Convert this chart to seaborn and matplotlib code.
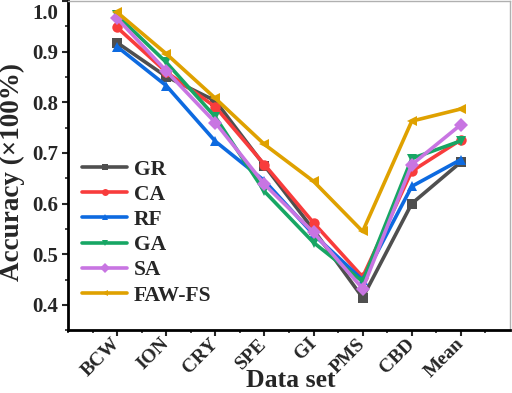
import matplotlib
matplotlib.use("Agg")
import matplotlib.pyplot as plt
import matplotlib.transforms as mtransforms
import seaborn as sns
import pandas as pd

categories = ["BCW", "ION", "CRY", "SPE", "GI", "PMS", "CBD", "Mean"]
methods = ["GR", "CA", "RF", "GA", "SA", "FAW-FS"]
gr = [0.918, 0.851, 0.803, 0.675, 0.548, 0.414, 0.600, 0.682]
ca = [0.948, 0.860, 0.791, 0.677, 0.562, 0.455, 0.664, 0.726]
rf = [0.910, 0.833, 0.723, 0.645, 0.539, 0.449, 0.634, 0.687]
ga = [0.972, 0.879, 0.771, 0.624, 0.523, 0.446, 0.689, 0.724]
sa = [0.966, 0.862, 0.760, 0.638, 0.543, 0.432, 0.677, 0.756]
faw = [0.978, 0.896, 0.808, 0.717, 0.644, 0.545, 0.763, 0.787]
yticks = [0.4, 0.5, 0.6, 0.7, 0.8, 0.9, 1.0]

colors = ["#4f4f4f", "#f83c3c", "#0d6ae0", "#17a664", "#c875e2", "#dfa100"]
marker_list = ["s", "o", "^", "v", "D", "<"]

series = [gr, ca, rf, ga, sa, faw]
rows = []
for m, vals in zip(methods, series):
    for i, (c, v) in enumerate(zip(categories, vals)):
        rows.append({"pos": i + 1, "cat": c, "acc": v, "method": m})
df = pd.DataFrame(rows)

sns.set_style("ticks")
plt.rcParams["font.family"] = ["Liberation Serif", "DejaVu Serif"]
plt.rcParams["font.weight"] = "bold"

fig = plt.figure(figsize=(5.12, 3.93), dpi=100)
ax = fig.add_axes([0.133, 0.160, 0.863, 0.837])

sns.lineplot(data=df, x="pos", y="acc", hue="method", style="method",
             hue_order=methods, style_order=methods,
             palette=dict(zip(methods, colors)),
             markers=dict(zip(methods, marker_list)), dashes=False,
             linewidth=2.6, markersize=7.5, markeredgewidth=0, ax=ax,
             legend=True)

ax.set_xlim(0, 9)
ax.set_ylim(0.35, 1.0)
ax.set_xticks(range(1, 9))
ax.set_xticks([i + 0.5 for i in range(0, 9)] + [0], minor=True)
ax.set_yticks(yticks)
ax.set_yticks([0.35, 0.45, 0.55, 0.65, 0.75, 0.85, 0.95], minor=True)

ax.tick_params(axis="both", which="major", direction="out", length=4, width=1.5, pad=3)
ax.tick_params(axis="both", which="minor", direction="out", length=2.5, width=1.2)
ax.tick_params(axis="x", which="major", pad=4)

ax.set_xticklabels(categories, rotation=45, ha="right", va="center",
                   rotation_mode="anchor", fontsize=14, fontweight="bold")
ax.set_yticklabels([f"{t:.1f}" for t in yticks], fontsize=15, fontweight="bold")
top_lab = ax.get_yticklabels()[-1]
top_lab.set_va("top")
top_lab.set_transform(top_lab.get_transform() +
                      mtransforms.ScaledTranslation(0, -2 / 72, fig.dpi_scale_trans))

for s in ["left", "bottom"]:
    ax.spines[s].set_linewidth(2)
    ax.spines[s].set_color("black")
for s in ["top", "right"]:
    ax.spines[s].set_linewidth(1)
    ax.spines[s].set_color("#b0b0b0")

ax.set_xlabel("Data set", fontsize=18.5, fontweight="bold")
ax.xaxis.set_label_coords(0.505, -0.118)
ax.set_ylabel("Accuracy (×100%)", fontsize=19.5, fontweight="bold")
ax.yaxis.set_label_coords(-0.098, 0.48)

handles, labels = ax.get_legend_handles_labels()
for h in handles:
    h.set_markersize(5)
    h.set_linewidth(2.6)
leg = ax.legend(handles, labels, loc="upper left", bbox_to_anchor=(0.012, 0.545),
                frameon=False, handlelength=2.1, handletextpad=0.3,
                labelspacing=0.24, borderaxespad=0,
                prop={"family": "Liberation Serif", "weight": "bold", "size": 15.5})

fig.savefig("out.png", dpi=100)
